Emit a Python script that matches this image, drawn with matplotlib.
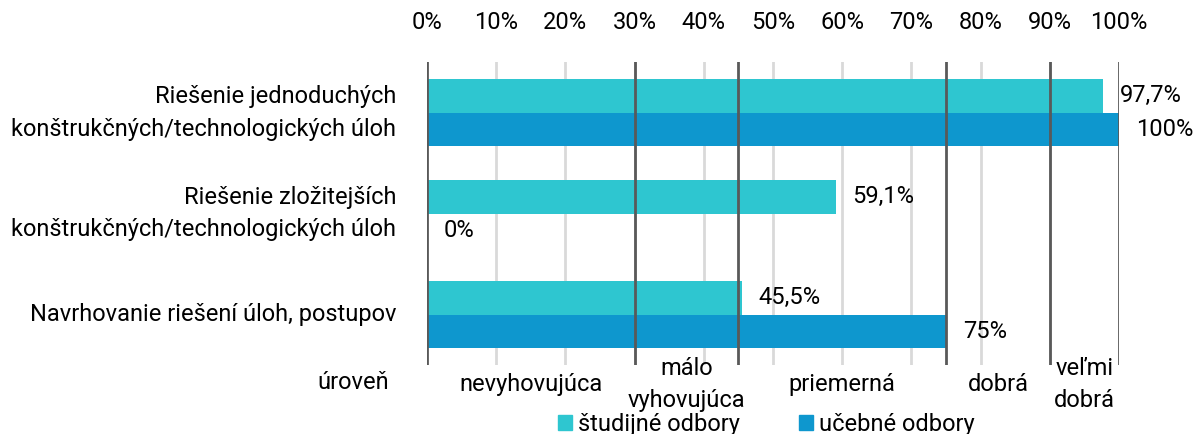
import numpy as np
import matplotlib.pyplot as plt
from matplotlib.patches import Patch
import matplotlib.transforms as mtransforms

plt.rcParams['font.family'] = ['Roboto', 'DejaVu Sans']

categories = ['Riešenie jednoduchých\nkonštrukčných/technologických úloh',
              'Riešenie zložitejších\nkonštrukčných/technologických úloh',
              'Navrhovanie riešení úloh, postupov']
studijne = [97.7, 59.1, 45.5]
ucebne = [100, 0, 75]
series_names = ['študijné odbory', 'učebné odbory']
level_bounds = [0, 30, 45, 75, 90, 100]
level_names = ['nevyhovujúca', 'málo\nvyhovujúca', 'priemerná', 'dobrá', 'veľmi\ndobrá']

c1 = '#2EC6D0'
c2 = '#0E97CE'
fs = 17

fig = plt.figure(figsize=(11.94, 4.34), dpi=100)
ax = fig.add_axes([0.3576, 0.159, 0.5796, 0.698])

y = np.arange(len(categories))
h = 0.335
ax.barh(y - h / 2, studijne, height=h, color=c1, zorder=3)
ax.barh(y + h / 2, ucebne, height=h, color=c2, zorder=3)

def fmt(v):
    if v == int(v):
        return '%d%%' % v
    return ('%.1f%%' % v).replace('.', ',')

for i in range(len(categories)):
    ax.annotate(fmt(studijne[i]), (studijne[i], y[i] - h / 2), xytext=(12, 0),
                textcoords='offset points', va='center', ha='left', fontsize=fs, zorder=4)
    ax.annotate(fmt(ucebne[i]), (ucebne[i], y[i] + h / 2), xytext=(12, 0),
                textcoords='offset points', va='center', ha='left', fontsize=fs, zorder=4)

ax.set_xlim(0, 100)
ax.set_ylim(2.5, -0.5)
ax.set_xticks(np.arange(0, 101, 10))
ax.set_xticklabels(['%d%%' % t for t in range(0, 101, 10)])
ax.xaxis.tick_top()
ax.tick_params(axis='x', length=0, pad=20, labelsize=fs)
ax.set_yticks(y)
ax.set_yticklabels(categories, fontsize=fs, linespacing=1.55, va='center')
ax.tick_params(axis='y', length=0, pad=22)
for s in ax.spines.values():
    s.set_visible(False)

for t in range(10, 100, 10):
    ax.axvline(t, color='#D9D9D9', lw=2, zorder=1)
for b in level_bounds:
    ax.axvline(b, color='#595959', lw=2, zorder=5)

trans = mtransforms.blended_transform_factory(ax.transData, ax.transAxes)
for i, name in enumerate(level_names):
    mid = (level_bounds[i] + level_bounds[i + 1]) / 2
    ax.text(mid, -0.065, name, transform=trans, ha='center', va='center',
            fontsize=fs, linespacing=1.5)
ax.text(-5.5, -0.058, 'úroveň', transform=trans, ha='right', va='center', fontsize=fs)

handles = [Patch(color=c1), Patch(color=c2)]
ax.legend(handles, series_names, loc='center', bbox_to_anchor=(0.49, -0.195), ncol=2,
          frameon=False, fontsize=fs, handlelength=0.6, handleheight=0.6,
          handletextpad=0.25, columnspacing=2.5, borderpad=0)

fig.savefig('out.png', dpi=100)
